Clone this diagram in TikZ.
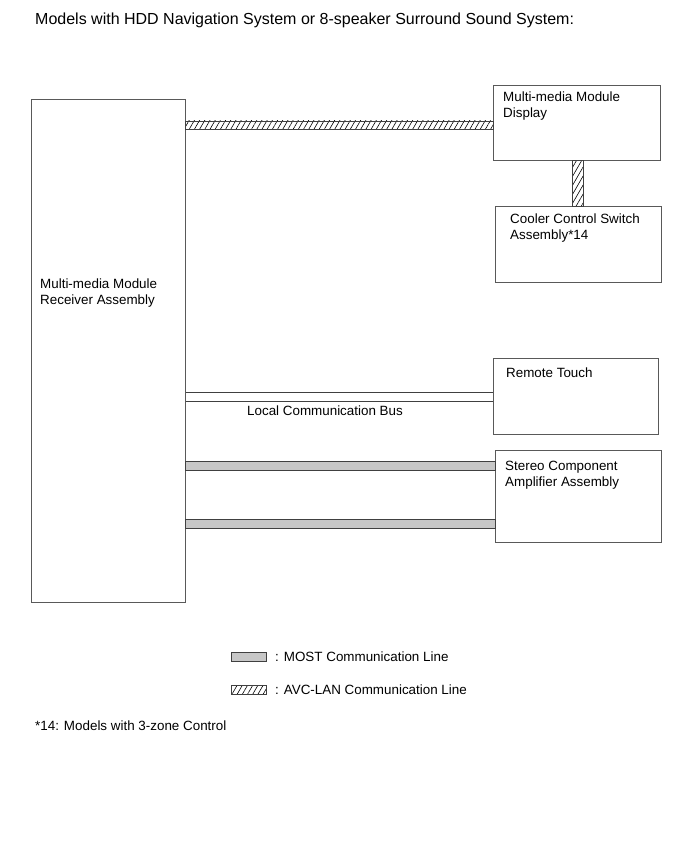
\documentclass[tikz,border=0pt]{standalone}
\usepackage{fontspec}
\setmainfont{Liberation Sans}
\usetikzlibrary{patterns.meta}
\begin{document}
\begin{tikzpicture}[x=1pt,y=-1pt,
  box/.style={draw=black!65,line width=0.8pt,fill=white,anchor=north west,inner sep=0pt},
  lbl/.style={anchor=north west,align=left,font=\fontsize{13.4}{16.5}\selectfont,inner sep=0pt},
  most/.style={draw=black!75,line width=0.8pt,fill=black!22},
  avc/.style={draw=black!75,line width=0.8pt,pattern={Lines[angle=60,distance=4.5pt,line width=0.6pt]}},
  lcb/.style={draw=black!75,line width=1pt}]
\useasboundingbox (0,0) rectangle (690,853);
\node[anchor=west,inner sep=0pt,font=\fontsize{16}{19}\selectfont] (title) at (35,20) {Models with HDD Navigation System or 8-speaker Surround Sound System:};
% boxes
\node[box,minimum width=154pt,minimum height=503pt] (recv) at (31,99) {};
\node[box,minimum width=167pt,minimum height=75pt] (disp) at (493,85) {};
\node[box,minimum width=166pt,minimum height=76pt] (cool) at (495,206) {};
\node[box,minimum width=165pt,minimum height=76pt] (rt) at (493,358) {};
\node[box,minimum width=166pt,minimum height=92pt] (amp) at (495,450) {};
% texts
\node[lbl] (trecv) at (40,278.5) {Multi-media Module\\Receiver Assembly};
\node[lbl] (tdisp) at (503,91.5) {Multi-media Module\\Display};
\node[lbl] (tcool) at (510,213.5) {Cooler Control Switch\\Assembly*14};
\node[lbl] (trt) at (506,367.5) {Remote Touch};
\node[lbl] (tamp) at (505,460.5) {Stereo Component\\Amplifier Assembly};
% AVC-LAN recv-disp
\coordinate (a1) at (recv.east |- 0,121);
\coordinate (a2) at (disp.west |- 0,129);
\draw[avc] (a1) rectangle (a2);
% AVC-LAN disp-cool
\coordinate (v1) at (572,0 |- disp.south);
\coordinate (v2) at (583,0 |- cool.north);
\draw[avc] (v1) rectangle (v2);
% local bus
\coordinate (l1) at (recv.east |- 0,392);
\coordinate (l2) at (rt.west |- 0,392);
\coordinate (l3) at (recv.east |- 0,401);
\coordinate (l4) at (rt.west |- 0,401);
\draw[lcb] (l1) -- (l2);
\draw[lcb] (l3) -- (l4);
\node[lbl,anchor=north] (tlcb) at (325,405.5) {Local Communication Bus};
% MOST
\coordinate (m1) at (recv.east |- 0,461);
\coordinate (m2) at (amp.west |- 0,470);
\draw[most] (m1) rectangle (m2);
\coordinate (m3) at (recv.east |- 0,519);
\coordinate (m4) at (amp.west |- 0,528);
\draw[most] (m3) rectangle (m4);
% legend
\node[most,anchor=north west,inner sep=0pt,minimum width=35pt,minimum height=9pt] (lm) at (231,652) {};
\node[lbl,anchor=west] (tlm) at (275,657) {: MOST Communication Line};
\node[avc,anchor=north west,inner sep=0pt,minimum width=35pt,minimum height=9pt] (la) at (231,685) {};
\node[lbl,anchor=west] (tla) at (275,690) {: AVC-LAN Communication Line};
\node[lbl,anchor=west] (foot) at (35,726) {*14: Models with 3-zone Control};
\end{tikzpicture}
\end{document}
